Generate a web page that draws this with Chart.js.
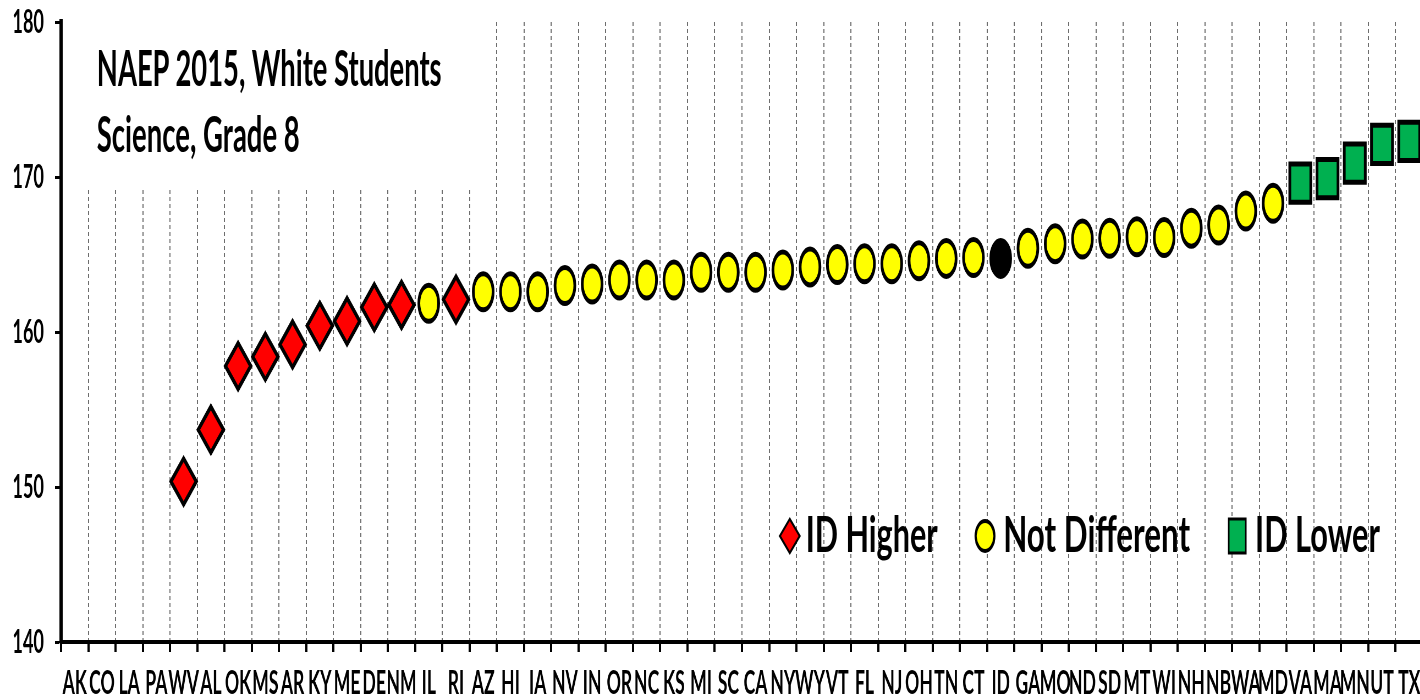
<!DOCTYPE html>
<html>
<head>
<meta charset="utf-8">
<script src="https://cdn.jsdelivr.net/npm/chart.js@4.4.1/dist/chart.umd.min.js"></script>
<style>
  html, body { margin: 0; padding: 0; background: #fff; overflow: hidden; }
  /* the original picture is squeezed sideways, so the whole chart is drawn wide and scaled down */
  #wrap { position: absolute; left: 0; top: 0; width: 2590px; height: 700px;
          transform: scaleX(0.55); transform-origin: 0 0; }
  #chart { position: absolute; left: 0; top: 0; }
  #over { position: absolute; left: 0; top: 0; }
  #over text { font-family: Lato, 'Open Sans', sans-serif; font-weight: bold; font-size: 49px; fill: #000; }
</style>
</head>
<body>
<div id="wrap">
  <canvas id="chart" width="2590" height="700"></canvas>
  <svg id="over" width="2590" height="700" viewBox="0 0 2590 700">
    <!-- title box hides the grid lines behind it -->
    <rect x="127" y="22" width="755" height="166" fill="#fff"/>
    <text x="176" y="86" textLength="627" lengthAdjust="spacingAndGlyphs">NAEP 2015, White Students</text>
    <text x="176" y="152" textLength="369" lengthAdjust="spacingAndGlyphs">Science, Grade 8</text>

    <!-- legend -->
    <polygon points="1418,536 1436,519 1454,536 1436,553" fill="#ff0000" stroke="#000" stroke-width="3"/>
    <text x="1465" y="552" textLength="240" lengthAdjust="spacingAndGlyphs">ID Higher</text>
    <ellipse cx="1791" cy="536" rx="17" ry="15" fill="#ffff00" stroke="#000" stroke-width="4"/>
    <text x="1824" y="552" textLength="340" lengthAdjust="spacingAndGlyphs">Not Different</text>
    <rect x="2234" y="519" width="31" height="34" fill="#00b050" stroke="#000" stroke-width="3"/>
    <text x="2282" y="552" textLength="227" lengthAdjust="spacingAndGlyphs">ID Lower</text>
  </svg>
</div>

<script>
// Estados (eje X)
const states = ['AK', 'CO', 'LA', 'PA', 'WV', 'AL', 'OK', 'MS', 'AR', 'KY', 'ME', 'DE', 'NM', 'IL', 'RI',
    'AZ', 'HI', 'IA', 'NV', 'IN', 'OR', 'NC', 'KS', 'MI', 'SC', 'CA', 'NY', 'WY', 'VT', 'FL', 'NJ', 'OH',
    'TN', 'CT', 'ID', 'GA', 'MO', 'ND', 'SD', 'MT', 'WI', 'NH', 'NB', 'WA', 'MD', 'VA', 'MA', 'MN', 'UT', 'TX'];

// Puntajes (null = sin dato)
const scores = [null, null, null, null, 150.35, 153.7, 157.8, 158.4, 159.2, 160.4, 160.7, 161.6, 161.75, 161.85, 162.1,
    162.6, 162.6, 162.6, 163.0, 163.1, 163.35, 163.35, 163.35, 163.85, 163.85, 163.85, 164.0, 164.2, 164.35, 164.4, 164.4, 164.6,
    164.75, 164.8, 164.75, 165.4, 165.7, 166.0, 166.05, 166.15, 166.1, 166.7, 166.9, 167.8, 168.3, 169.6, 169.9, 170.9, 172.1, 172.3];

// Grupo de cada estado: H = ID Higher, N = Not Different, ID = Idaho, L = ID Lower
const groups = [null, null, null, null, 'H', 'H', 'H', 'H', 'H', 'H', 'H', 'H', 'H', 'N', 'H',
    'N', 'N', 'N', 'N', 'N', 'N', 'N', 'N', 'N', 'N', 'N', 'N', 'N', 'N', 'N', 'N', 'N',
    'N', 'N', 'ID', 'N', 'N', 'N', 'N', 'N', 'N', 'N', 'N', 'N', 'N', 'L', 'L', 'L', 'L', 'L'];

const yTicks = [140, 150, 160, 170, 180];

const pick = g => scores.map((v, i) => groups[i] === g ? v : null);

function markers(label, g, style, radius, fill) {
    return {
        label: label,
        data: pick(g),
        showLine: false,
        pointStyle: style,
        pointRadius: radius,
        pointHoverRadius: radius,
        pointBackgroundColor: fill,
        pointBorderColor: '#000',
        pointBorderWidth: 5,
        pointHoverBorderWidth: 5
    };
}

// Quitar el relleno automático que Chart.js reserva para las etiquetas
function noPadding(scale) {
    scale.paddingTop = 0;
    scale.paddingBottom = 0;
    scale.paddingLeft = 0;
    scale.paddingRight = 0;
}

const ctx = document.getElementById('chart');

new Chart(ctx, {
    type: 'line',
    data: {
        labels: states,
        datasets: [
            markers('ID Higher', 'H', 'rectRot', 23, '#ff0000'),
            markers('Not Different', 'N', 'circle', 18, '#ffff00'),
            markers('ID', 'ID', 'circle', 18, '#000000'),
            markers('ID Lower', 'L', 'rect', 27, '#00b050')
        ]
    },
    options: {
        responsive: false,
        animation: false,
        layout: { autoPadding: false, padding: { top: 22, right: 3, left: 0, bottom: 0 } },
        plugins: {
            legend: { display: false },
            tooltip: { enabled: false }
        },
        scales: {
            x: {
                offset: true,
                grid: {
                    offset: true,
                    color: '#6e6e6e',
                    lineWidth: 2,
                    tickLength: 10,
                    tickColor: '#000',
                    tickWidth: 4,
                    tickBorderDash: []
                },
                border: { color: '#000', width: 4, dash: [4, 3] },
                ticks: {
                    autoSkip: false,
                    maxRotation: 0,
                    minRotation: 0,
                    padding: 12,
                    color: '#000',
                    font: { family: 'Lato', size: 32, weight: 'bold' }
                },
                afterFit: scale => { scale.height = 58; noPadding(scale); }
            },
            y: {
                min: 140,
                max: 180,
                afterBuildTicks: scale => { scale.ticks = yTicks.map(v => ({ value: v })); },
                grid: {
                    drawOnChartArea: false,
                    tickLength: 11,
                    tickColor: '#000',
                    tickWidth: 3
                },
                border: { color: '#000', width: 6 },
                ticks: {
                    padding: 20,
                    color: '#000',
                    font: { family: 'Lato', size: 33, weight: 'bold' }
                },
                afterFit: scale => { scale.width = 111; noPadding(scale); }
            }
        }
    }
});
</script>
</body>
</html>
